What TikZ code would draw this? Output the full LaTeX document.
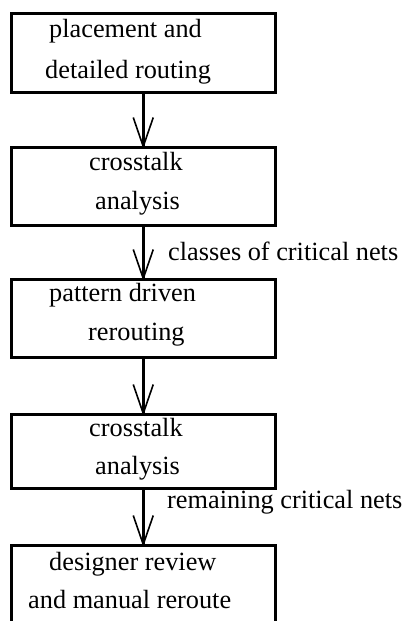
\documentclass[tikz,border=0pt]{standalone}
\usepackage{fontspec}
\setmainfont{Liberation Serif}
\begin{document}
\begin{tikzpicture}[x=1pt,y=-1pt,
  stage/.style={draw=black, line width=3pt, rectangle, inner sep=0pt,
    minimum width=264.5pt, anchor=north west},
  txt/.style={anchor=base west, inner sep=0pt, font=\fontsize{26.3}{30}\selectfont},
  shaft/.style={line width=3pt},
  barb/.style={line width=1.6pt, line join=miter}]
\clip (0,0) rectangle (406,621);
\fill[white] (0,0) rectangle (406,621);

% process stages (top-left corner on the border's centre line)
\node[stage, minimum height=78.5pt] (s1) at (9.5,12) {};
\node[stage, minimum height=78pt]   (s2) at (9.5,145.5) {};
\node[stage, minimum height=78.5pt] (s3) at (9.5,277.5) {};
\node[stage, minimum height=74.5pt] (s4) at (9.5,412.5) {};
\node[stage, minimum height=80pt]   (s5) at (9.5,543.5) {};

% stage texts
\node[txt] (t1a) at (49,37.3)  {placement and};
\node[txt] (t1b) at (45,78)    {detailed routing};
\node[txt] (t2a) at (89,170.7) {crosstalk};
\node[txt] (t2b) at (95,209)   {analysis};
\node[txt] (t3a) at (49,301)   {pattern driven};
\node[txt] (t3b) at (88,340)   {rerouting};
\node[txt] (t4a) at (89,436.7) {crosstalk};
\node[txt] (t4b) at (95,474)   {analysis};
\node[txt] (t5a) at (49,570)   {designer review};
\node[txt] (t5b) at (28,608)   {and manual reroute};

% flow labels
\node[txt] (l1) at (168,260) {classes of critical nets};
\node[txt] (l2) at (167,508) {remaining critical nets};

% connectors: thick shaft with an open V head
\foreach \a/\b in {s1/s2, s2/s3, s3/s4, s4/s5}{
  \draw[shaft] (\a.south) -- (\b.north);
  \draw[barb] ([shift={(-10,-28)}]\b.north) -- ([yshift=-1pt]\b.north)
              -- ([shift={(10,-28)}]\b.north);
}
\end{tikzpicture}
\end{document}
